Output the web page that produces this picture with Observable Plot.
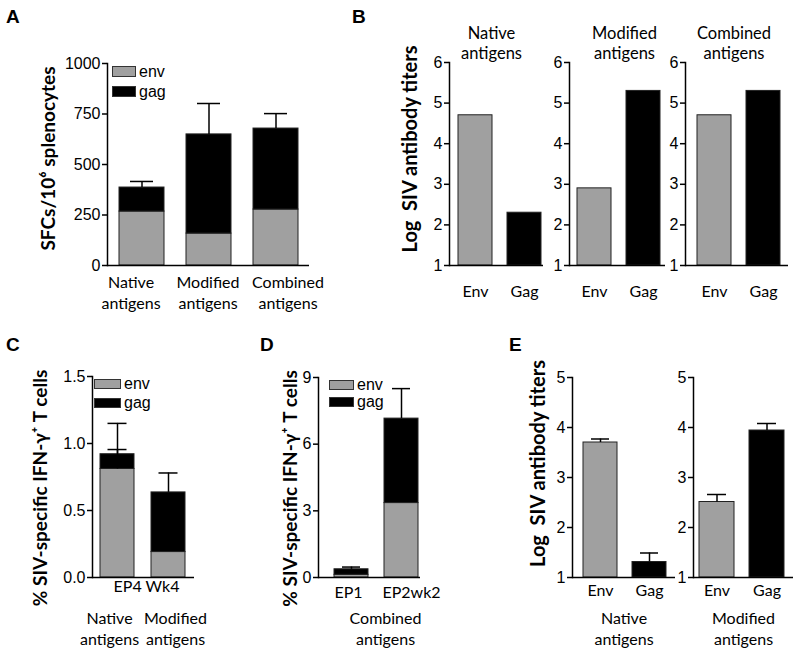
<!DOCTYPE html>
<html>
<head>
<meta charset="utf-8">
<script src="https://cdn.jsdelivr.net/npm/d3@7"></script>
<script src="https://cdn.jsdelivr.net/npm/@observablehq/plot@0.6"></script>
<style>
  html, body { margin: 0; padding: 0; background: #fff; }
  #fig { position: relative; width: 800px; height: 649px; background: #fff; overflow: hidden; }
  #fig svg { position: absolute; left: 0; top: 0; max-width: none; }
  .letter { position: absolute; font: bold 19px "Liberation Sans", Arial, sans-serif; line-height: 1; }
  .leg { position: absolute; font: 16px "Liberation Sans", Arial, sans-serif; line-height: 1; }
  .leg .row { position: absolute; left: 0; display: flex; align-items: center; white-space: nowrap; }
  .leg .sw { box-sizing: border-box; border: 1px solid #333; margin-right: 3px; }
</style>
</head>
<body>
<div id="fig"></div>
<script>
// ---------- data ----------
const seriesNames = ["env", "gag"];
const seriesColors = ["#a0a0a0", "#000000"];
const panelLetters = ["A", "B", "C", "D", "E"];

// Panel A: SFCs / 10^6 splenocytes (stacked env + gag, error above total)
const groupsA = ["Native antigens", "Modified antigens", "Combined antigens"];
const envA = [267, 158, 277];
const gagA = [119, 491, 401];
const errA = [30, 153, 74];
const ticksA = [0, 250, 500, 750, 1000];
const titleA = "SFCs/10\u2076 splenocytes";

// Panel B: log SIV antibody titers
const groupsB = ["Native antigens", "Modified antigens", "Combined antigens"];
const antigensB = ["Env", "Gag"];
const envB = [4.7, 2.9, 4.7];
const gagB = [2.3, 5.3, 5.3];
const ticksB = [1, 2, 3, 4, 5, 6];
const titleB = "Log\u00A0 SIV antibody titers";

// Panel C: % SIV-specific IFN-g+ T cells (EP4 Wk4)
const groupsC = ["Native antigens", "Modified antigens"];
const envC = [0.81, 0.19];
const gagC = [0.11, 0.445];
const errC = [0.23, 0.145];
const envErrC = [0.145, null];
const ticksC = [0, 0.5, 1.0, 1.5];
const timeC = "EP4 Wk4";
const titleCD = "% SIV-specific IFN-\u03B3\u207A T cells";

// Panel D: combined antigens
const groupsD = ["EP1", "EP2wk2"];
const envD = [0.12, 3.35];
const gagD = [0.25, 3.8];
const errD = [0.1, 1.35];
const ticksD = [0, 3, 6, 9];
const groupLabelD = "Combined antigens";

// Panel E: log SIV antibody titers with error
const groupsE = ["Native antigens", "Modified antigens"];
const antigensE = ["Env", "Gag"];
const envE = [3.70, 2.51];
const envErrE = [0.07, 0.15];
const gagE = [1.31, 3.94];
const gagErrE = [0.18, 0.14];
const ticksE = [1, 2, 3, 4, 5];
const titleE = "Log\u00A0 SIV antibody titers";

// ---------- helpers ----------
const fig = document.getElementById("fig");
const W = 800, H = 649;
const NUM_FONT = "Liberation Sans, Arial, sans-serif";
const CAT_FONT = "Lato, Open Sans, sans-serif";
const SW = 1.5;

function chart({x0, x1, y0, y1, xDomain, xRange, pad = 0.32, yDomain, yTicks, yFormat, marks}) {
  const svg = Plot.plot({
    width: W, height: H,
    marginLeft: x0, marginRight: W - x1, marginTop: y0, marginBottom: H - y1,
    style: {background: "transparent", overflow: "visible", fontFamily: NUM_FONT, fontSize: "16px", color: "black"},
    x: {type: "band", domain: xDomain, range: xRange, paddingInner: pad, paddingOuter: 0, axis: null},
    y: {domain: yDomain, axis: null},
    marks: [
      ...marks,
      Plot.axisY({ticks: yTicks, tickFormat: yFormat, label: null, tickSize: 5, tickPadding: 2, strokeWidth: SW, fontSize: 16, fontFamily: NUM_FONT}),
      Plot.ruleY([yDomain[0]], {stroke: "black", strokeWidth: SW}),
      Plot.frame({anchor: "left", stroke: "black", strokeWidth: SW})
    ]
  });
  fig.append(svg);
}

function stackRows(groups, env, gag, err, envErr) {
  const bars = [], errs = [];
  groups.forEach((g, i) => {
    bars.push({g, s: seriesNames[0], y1: 0, y2: env[i]});
    bars.push({g, s: seriesNames[1], y1: env[i], y2: env[i] + gag[i]});
    errs.push({g, lo: env[i] + gag[i], hi: env[i] + gag[i] + err[i]});
    if (envErr && envErr[i] != null) errs.push({g, lo: env[i], hi: env[i] + envErr[i]});
  });
  return {bars, errs};
}

function barMarks(bars, errs, capInset) {
  const color = d3.scaleOrdinal(seriesNames, seriesColors);
  const m = [
    Plot.barY(bars, {x: "g", y1: "y1", y2: "y2", fill: d => color(d.s), stroke: "#222", strokeWidth: 1})
  ];
  if (errs) {
    m.push(Plot.ruleX(errs, {x: "g", y1: "lo", y2: "hi", stroke: "black", strokeWidth: SW}));
    m.push(Plot.tickY(errs, {x: "g", y: "hi", stroke: "black", strokeWidth: SW, insetLeft: capInset, insetRight: capInset}));
  }
  return m;
}

// one text mark per category so each label can be nudged like in the original figure
function catLabels(groups, dy, dxs, multiline = true) {
  return groups.map((g, i) => Plot.text([g], {x: d => d, text: d => multiline ? d.replace(" ", "\n") : d,
    frameAnchor: "bottom", dx: dxs ? dxs[i] : 0, dy,
    lineAnchor: "middle", lineHeight: 1.3, fontSize: 16, fontFamily: CAT_FONT, fill: "black"}));
}

function yTitle(text, dx, dy, size) {
  return Plot.text([text], {text: d => d, frameAnchor: "left", rotate: -90, dx, dy, textAnchor: "middle",
    lineAnchor: "middle", fontWeight: "bold", fontSize: size, fontFamily: CAT_FONT, fill: "black"});
}

function legend(left, top, sw, sh, gap) {
  const div = document.createElement("div");
  div.className = "leg";
  div.style.left = left + "px"; div.style.top = top + "px";
  seriesNames.forEach((n, i) => {
    const row = document.createElement("div");
    row.className = "row";
    row.style.top = (i * gap) + "px";
    row.style.height = sh + "px";
    const s = document.createElement("div");
    s.className = "sw";
    s.style.width = sw + "px"; s.style.height = sh + "px"; s.style.background = seriesColors[i];
    const t = document.createElement("span");
    t.textContent = n;
    row.append(s, t);
    div.append(row);
  });
  fig.append(div);
}

// ---------- Panel A ----------
{
  const {bars, errs} = stackRows(groupsA, envA, gagA, errA);
  chart({x0: 107, x1: 309, y0: 63, y1: 265, xDomain: groupsA, xRange: [118, 298], pad: 1/3,
    yDomain: [0, 1000], yTicks: ticksA, yFormat: d3.format("d"),
    marks: [
      ...barMarks(bars, errs, 11),
      ...catLabels(groupsA, 26, [-11, -1, 12]),
      yTitle(titleA, -59, -6, 19)
    ]});
  legend(112, 66, 24, 11, 20);
}

// ---------- Panel B ----------
{
  const frames = [
    {x0: 449, x1: 543, xRange: [458, 541], tdx: -5},
    {x0: 569, x1: 665, xRange: [576, 660], tdx: 7},
    {x0: 685, x1: 788, xRange: [697, 780], tdx: -3}
  ];
  const color = d3.scaleOrdinal(antigensB, seriesColors);
  groupsB.forEach((grp, i) => {
    const f = frames[i];
    const rows = antigensB.map((a, j) => ({a, v: j === 0 ? envB[i] : gagB[i]}));
    const marks = [
      Plot.barY(rows, {x: "a", y1: 1, y2: "v", fill: d => color(d.a), stroke: "#222", strokeWidth: 1}),
      ...catLabels(antigensB, 25, null, false),
      Plot.text([grp], {text: d => d.replace(" ", "\n"), frameAnchor: "top", dx: f.tdx, dy: -20, lineAnchor: "middle",
        lineHeight: 1.25, fontSize: 16.5, fontFamily: CAT_FONT, fill: "black"})
    ];
    if (i === 0) marks.push(yTitle(titleB, -39, -15, 20));
    chart({x0: f.x0, x1: f.x1, y0: 62, y1: 265, xDomain: antigensB, xRange: f.xRange, pad: 0.31,
      yDomain: [1, 6], yTicks: ticksB, yFormat: d3.format("d"), marks});
  });
}

// ---------- Panel C ----------
{
  const {bars, errs} = stackRows(groupsC, envC, gagC, errC, envErrC);
  chart({x0: 92, x1: 194, y0: 376, y1: 577, xDomain: groupsC, xRange: [100, 185], pad: 1/3,
    yDomain: [0, 1.5], yTicks: ticksC, yFormat: d3.format(".1f"),
    marks: [
      ...barMarks(bars, errs, 7.5),
      Plot.text([timeC], {text: d => d, frameAnchor: "bottom", dx: 3, dy: 14, fontSize: 16, fontFamily: CAT_FONT, fill: "black"}),
      ...catLabels(groupsC, 50, [-8, 7]),
      yTitle(titleCD, -52, 11, 19)
    ]});
  legend(94, 379, 27, 10, 19);
}

// ---------- Panel D ----------
{
  const {bars, errs} = stackRows(groupsD, envD, gagD, errD);
  chart({x0: 318, x1: 420, y0: 377, y1: 577, xDomain: groupsD, xRange: [334, 418], pad: 0.32,
    yDomain: [0, 9], yTicks: ticksD, yFormat: d3.format("d"),
    marks: [
      ...barMarks(bars, errs, 8),
      ...catLabels(groupsD, 14, [-3, 10], false),
      Plot.text([groupLabelD], {text: d => d.replace(" ", "\n"), frameAnchor: "bottom", dx: 16, dy: 50, lineAnchor: "middle",
        lineHeight: 1.3, fontSize: 16, fontFamily: CAT_FONT, fill: "black"}),
      yTitle(titleCD, -28, 11, 19)
    ]});
  legend(329, 380, 25, 10, 17);
}

// ---------- Panel E ----------
{
  const frames = [
    {x0: 572, x1: 675, xRange: [582, 666]},
    {x0: 693, x1: 793, xRange: [699, 784]}
  ];
  const color = d3.scaleOrdinal(antigensE, seriesColors);
  groupsE.forEach((grp, i) => {
    const f = frames[i];
    const rows = [
      {a: antigensE[0], v: envE[i], e: envE[i] + envErrE[i]},
      {a: antigensE[1], v: gagE[i], e: gagE[i] + gagErrE[i]}
    ];
    const marks = [
      Plot.barY(rows, {x: "a", y1: 1, y2: "v", fill: d => color(d.a), stroke: "#222", strokeWidth: 1}),
      Plot.ruleX(rows, {x: "a", y1: "v", y2: "e", stroke: "black", strokeWidth: SW}),
      Plot.tickY(rows, {x: "a", y: "e", stroke: "black", strokeWidth: SW, insetLeft: 8, insetRight: 8}),
      ...catLabels(antigensE, 12, null, false),
      Plot.text([grp], {text: d => d.replace(" ", "\n"), frameAnchor: "bottom", dy: 50, lineAnchor: "middle",
        lineHeight: 1.3, fontSize: 16, fontFamily: CAT_FONT, fill: "black"})
    ];
    if (i === 0) marks.push(yTitle(titleE, -34, -14, 20));
    chart({x0: f.x0, x1: f.x1, y0: 377, y1: 577, xDomain: antigensE, xRange: f.xRange, pad: 0.31,
      yDomain: [1, 5], yTicks: ticksE, yFormat: d3.format("d"), marks});
  });
}

// ---------- panel letters ----------
const letterPos = [[6, 7], [352, 7], [6, 335], [260, 335], [509, 335]];
panelLetters.forEach((L, i) => {
  const d = document.createElement("div");
  d.className = "letter";
  d.textContent = L;
  d.style.left = letterPos[i][0] + "px";
  d.style.top = letterPos[i][1] + "px";
  fig.append(d);
});
</script>
</body>
</html>
